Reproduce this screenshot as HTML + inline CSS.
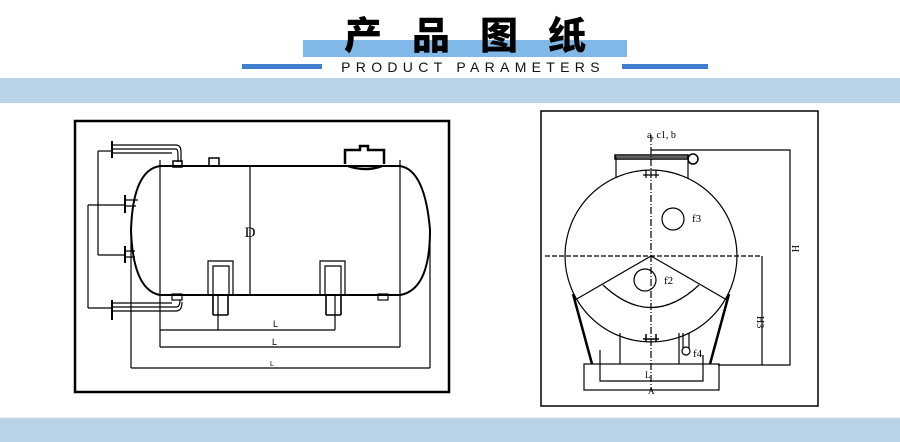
<!DOCTYPE html>
<html><head><meta charset="utf-8"><style>
html,body{margin:0;padding:0;background:#fff;}
body{width:900px;height:442px;position:relative;overflow:hidden;font-family:"Liberation Sans","Noto Sans CJK SC",sans-serif;}
</style></head><body>
<svg width="900" height="442" viewBox="0 0 900 442" xmlns="http://www.w3.org/2000/svg" style="position:absolute;left:0;top:0">
<!-- header -->
<rect x="303" y="40" width="324" height="17" fill="#80b8e8"/>
<text x="465" y="49" text-anchor="middle" font-family="Noto Sans CJK SC, sans-serif" font-weight="900" font-size="38" fill="#000" letter-spacing="30" dx="15">产品图纸</text>
<rect x="242" y="64" width="80" height="5" fill="#3f7fcf"/>
<rect x="622" y="64" width="86" height="5" fill="#3f7fcf"/>
<text x="473" y="72" text-anchor="middle" font-family="Liberation Sans, sans-serif" font-size="14" fill="#111" letter-spacing="5.3">PRODUCT PARAMETERS</text>
<rect x="0" y="78" width="900" height="25" fill="#bad2e7"/>
<rect x="0" y="418" width="900" height="24" fill="#bad2e7"/>
<line x1="0" y1="418" x2="900" y2="418" stroke="#d8dde2"/>

<!-- left drawing -->
<g fill="none" stroke="#000" stroke-width="1.2">
<rect x="75" y="121" width="374" height="271" stroke-width="2.5"/>
<path d="M160 166 H400 Q425 170 430 230 Q430 290 400 295 H160 Q133 290 131 230 Q133 170 160 166 Z" stroke-width="2"/>
<line x1="160" y1="160" x2="160" y2="347"/>
<line x1="400" y1="160" x2="400" y2="347"/>
<line x1="250" y1="166" x2="250" y2="295"/>
<line x1="160" y1="330" x2="335" y2="330"/>
<line x1="160" y1="347" x2="400" y2="347"/>
<line x1="131" y1="230" x2="131" y2="368"/>
<line x1="430" y1="230" x2="430" y2="368"/>
<line x1="131" y1="368" x2="430" y2="368"/>
<line x1="218" y1="295" x2="218" y2="330"/>
<line x1="335" y1="295" x2="335" y2="330"/>
<!-- saddles -->
<path d="M208 295 V261 H233 V295 M213 295 V266 H229 V295"/>
<path d="M320 295 V261 H345 V295 M325 295 V266 H341 V295"/>
<path d="M213 315 H228 M213 295 V315 M228 295 V315" stroke-width="1.6"/>
<path d="M326 315 H341 M326 295 V315 M341 295 V315" stroke-width="1.6"/>
<!-- pipes -->
<line x1="112" y1="141" x2="112" y2="158" stroke-width="2"/>
<path d="M112 145 H176 Q181 145 181 152 V162 M112 149 H176 Q178 149 178 156 V162 M112 153 H172"/>
<line x1="98" y1="151" x2="98" y2="255"/>
<line x1="98" y1="151" x2="112" y2="151"/>
<line x1="98" y1="255" x2="126" y2="255"/>
<line x1="88" y1="205" x2="88" y2="308"/>
<line x1="88" y1="205" x2="125" y2="205"/>
<line x1="88" y1="308" x2="112" y2="308"/>
<line x1="125" y1="195" x2="125" y2="213" stroke-width="2"/>
<line x1="125" y1="246" x2="125" y2="263" stroke-width="2"/>
<path d="M125 200 H138 M125 206 H136 M125 251 H135 M125 257 H135"/>
<line x1="112" y1="300" x2="112" y2="320" stroke-width="2"/>
<path d="M112 303 H172 M112 307 H176 Q180 307 180 300 M112 311 H176 Q182 311 182 302"/>
<!-- nozzles -->
<rect x="173" y="161" width="9" height="6" stroke-width="1.5"/>
<rect x="209" y="158" width="10" height="8" stroke-width="1.5"/>
<path d="M345 164 V150 H360 V146 H368 V150 H384 V164 M348 166 Q365 172 382 166" stroke-width="2.5"/>
<rect x="172" y="294" width="10" height="6"/>
<rect x="378" y="294" width="10" height="6"/>
</g>
<text x="250" y="237" text-anchor="middle" font-family="Liberation Serif, serif" font-size="15">D</text>
<text x="273" y="327" font-size="9">L</text>
<text x="272" y="345" font-size="9">L</text>
<text x="270" y="366" font-size="7">L</text>

<!-- right drawing -->
<g fill="none" stroke="#000" stroke-width="1.2">
<rect x="541" y="111" width="277" height="295" stroke-width="1.5"/>
<circle cx="651" cy="256" r="86"/>
<line x1="545" y1="256" x2="762" y2="256" stroke-dasharray="5 2"/>
<line x1="651" y1="135" x2="651" y2="390" stroke-dasharray="7 2 1 2"/>
<line x1="762" y1="256" x2="762" y2="365"/>
<path d="M651 150 H790 V365 H718"/>
<rect x="584" y="364" width="135" height="26"/>
<path d="M600 350 V381 H703 V355"/>
<line x1="573" y1="294" x2="592" y2="364" stroke-width="2.5"/>
<line x1="729" y1="294" x2="710" y2="364" stroke-width="2.5"/>
<line x1="651" y1="256" x2="575" y2="300"/>
<line x1="651" y1="256" x2="727" y2="300"/>
<path d="M603 285 Q651 330 699 285"/>
<circle cx="673" cy="219" r="11"/>
<circle cx="645" cy="280" r="11"/>
<path d="M616 178 V157 H688 V178" />
<rect x="615" y="155" width="73" height="4" stroke-width="1.5"/>
<circle cx="693" cy="159" r="5" stroke-width="1.5"/>
<path d="M643 175 H659 M646 170 V178 M656 170 V178"/>
<path d="M643 339 H659 M646 334 V342 M656 334 V342" stroke-width="1.5"/>
<line x1="620" y1="333" x2="620" y2="364"/>
<line x1="679" y1="333" x2="679" y2="364"/>
<path d="M683 333 V348 M689 333 V348"/>
<circle cx="686" cy="351" r="4"/>
</g>
<text x="647" y="138" font-size="10" font-family="Liberation Serif, serif">a, c1, b</text>
<text x="692" y="222" font-size="11" font-family="Liberation Serif, serif">f3</text>
<text x="664" y="284" font-size="11" font-family="Liberation Serif, serif">f2</text>
<text x="693" y="357" font-size="11" font-family="Liberation Serif, serif">f4</text>
<text x="648" y="394" font-size="9" font-family="Liberation Serif, serif">A</text>
<text x="645" y="378" font-size="9" font-family="Liberation Serif, serif">L</text>
<text x="757" y="316" font-size="10" font-family="Liberation Serif, serif" transform="rotate(90 757 316)">H3</text>
<text x="792" y="245" font-size="10" font-family="Liberation Serif, serif" transform="rotate(90 792 245)">H</text>
</svg>
</body></html>
